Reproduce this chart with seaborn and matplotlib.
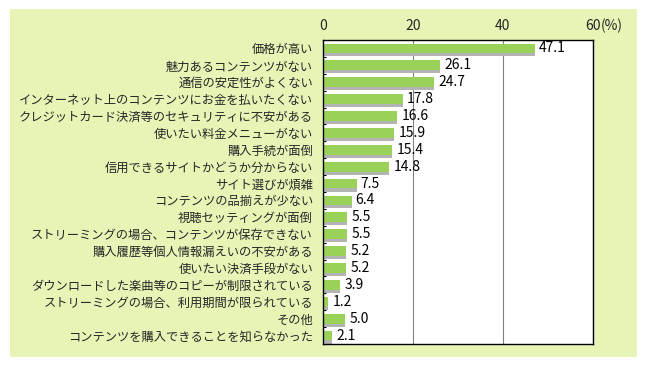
import numpy as np
import matplotlib
matplotlib.use("Agg")
import matplotlib.pyplot as plt
import matplotlib.patheffects as pe
from matplotlib.patches import Rectangle
import seaborn as sns

# data
categories = [
    "価格が高い",
    "魅力あるコンテンツがない",
    "通信の安定性がよくない",
    "インターネット上のコンテンツにお金を払いたくない",
    "クレジットカード決済等のセキュリティに不安がある",
    "使いたい料金メニューがない",
    "購入手続が面倒",
    "信用できるサイトかどうか分からない",
    "サイト選びが煩雑",
    "コンテンツの品揃えが少ない",
    "視聴セッティングが面倒",
    "ストリーミングの場合、コンテンツが保存できない",
    "購入履歴等個人情報漏えいの不安がある",
    "使いたい決済手段がない",
    "ダウンロードした楽曲等のコピーが制限されている",
    "ストリーミングの場合、利用期間が限られている",
    "その他",
    "コンテンツを購入できることを知らなかった",
]
values = [47.1, 26.1, 24.7, 17.8, 16.6, 15.9, 15.4, 14.8, 7.5,
          6.4, 5.5, 5.5, 5.2, 5.2, 3.9, 1.2, 5.0, 2.1]
xticks = [0, 20, 40, 60]

sns.set_style("white")
plt.rcParams['font.family'] = ['Noto Sans CJK JP', 'DejaVu Sans']

bar_green = '#99d159'
shadow_gray = '#b3b3b3'
panel_bg = '#e6f5b6'

fig = plt.figure(figsize=(6.47, 3.68), dpi=100)
fig.patch.set_facecolor('white')
# light green panel behind everything
fig.patches.append(Rectangle((0.0155, 0.0299), 0.969, 0.9443,
                             transform=fig.transFigure, facecolor=panel_bg,
                             edgecolor='none', zorder=-10))

ax = fig.add_axes([0.4988, 0.0652, 0.4177, 0.8261])
ax.set_zorder(1)
ax.set_facecolor('white')

sns.barplot(x=values, y=categories, orient='h', color=bar_green,
            saturation=1, width=0.58, linewidth=0, ax=ax)

for bar in ax.patches:
    bar.set_path_effects([pe.SimplePatchShadow(offset=(0, -2.2),
                                               shadow_rgbFace=shadow_gray,
                                               alpha=1.0),
                          pe.Normal()])

ax.bar_label(ax.containers[0], fmt='%.1f', padding=3, fontsize=10,
             color='black')

ax.set_xlim(0, 60)
ax.set_xticks(xticks)
ax.set_xticklabels([str(t) for t in xticks])
ax.xaxis.tick_top()
ax.tick_params(axis='x', length=0, pad=5, labelsize=10)
ax.annotate('(%)', xy=(1, 1), xycoords='axes fraction',
            xytext=(5.5, 5), textcoords='offset points',
            ha='left', va='bottom', fontsize=10)

ax.set_ylabel('')
ax.set_xlabel('')
ax.tick_params(axis='y', which='major', length=0, pad=7, labelsize=8.85)
ax.set_yticks(np.arange(len(categories)) + 0.5, minor=True)
ax.tick_params(axis='y', which='minor', direction='in', length=2.5,
               width=0.8, color='black', left=True)

ax.grid(axis='x', color='#808080', linewidth=0.8)
ax.grid(axis='y', visible=False)
ax.set_axisbelow(True)
for s in ax.spines.values():
    s.set_visible(True)
    s.set_color('black')
    s.set_linewidth(1.0)

fig.savefig('out.png', dpi=100)
